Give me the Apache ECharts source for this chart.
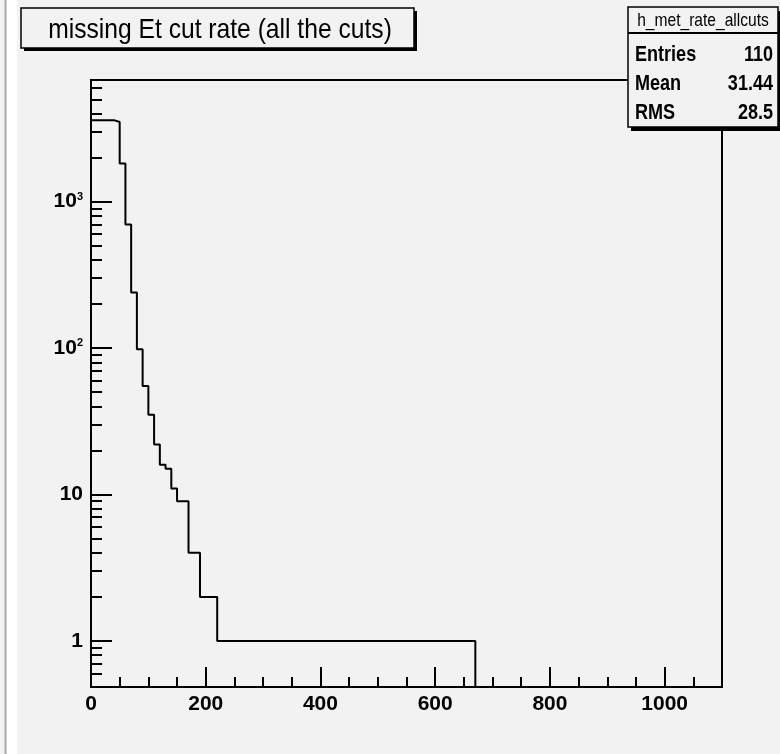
<!DOCTYPE html>
<html>
<head>
<meta charset="utf-8">
<script src="https://cdn.jsdelivr.net/npm/echarts@6/dist/echarts.min.js"></script>
<style>
  html, body { margin: 0; padding: 0; background: #f2f2f2; }
  #chart { width: 780px; height: 754px; }
</style>
</head>
<body>
<div id="chart"></div>
<script>
  // histogram h_met_rate_allcuts, bin width 10, runs of equal bin content
  const binEdges = [0, 40, 50, 60, 70, 80, 90, 100, 110, 120, 130, 140, 150, 170, 190, 220, 670, 1100]
  const binCounts = [3600, 3500, 1818, 697, 240, 98, 55, 35, 22, 16, 15, 11, 9, 4, 2, 1, 0]

  const xMajorTicks = [0, 200, 400, 600, 800, 1000]
  const xMinorTicks = [50, 100, 150, 250, 300, 350, 450, 500, 550, 650, 700, 750, 850, 900, 950, 1050]
  const yMajorTicks = [1, 10, 100, 1000]
  const yMinorTicks = [0.6, 0.7, 0.8, 0.9, 2, 3, 4, 5, 6, 7, 8, 9, 20, 30, 40, 50, 60, 70, 80, 90,
    200, 300, 400, 500, 600, 700, 800, 900, 2000, 3000, 4000, 5000, 6000]

  const titleText = 'missing Et cut rate (all the cuts)'
  const statsName = 'h_met_rate_allcuts'
  const statsRows = [['Entries', '110'], ['Mean', '31.44'], ['RMS', '28.5']]

  const xMin = 0
  const xMax = 1100
  const yMin = 0.485
  const yMax = 6770

  const font = '"Liberation Sans", Arial, sans-serif'

  // step outline; empty bins sit on the bottom of the frame like ROOT does
  function histPoints () {
    let pts = []
    for (let i = 0; i < binCounts.length; i++) {
      pts.push([binEdges[i], Math.max(binCounts[i], yMin)])
    }
    pts.push([binEdges[binEdges.length - 1], Math.max(binCounts[binCounts.length - 1], yMin)])
    return pts
  }

  function yLabel (v) {
    if (v >= 100) {
      return '{b|10}{s|' + Math.round(Math.log10(v)) + '}'
    }
    return '{b|' + v + '}'
  }

  let chart = echarts.init(document.getElementById('chart'))

  let statsGraphics = [
    {type: 'rect', shape: {x: 631, y: 11, width: 150, height: 120}, style: {fill: '#000'}},
    {type: 'rect', shape: {x: 628, y: 7, width: 150, height: 120}, style: {fill: '#f2f2f2', stroke: '#000', lineWidth: 1.5}},
    {type: 'line', shape: {x1: 628, y1: 33, x2: 778, y2: 33}, style: {stroke: '#000', lineWidth: 2}},
    {type: 'text', x: 703, y: 21, scaleX: 0.82, style: {text: statsName, fontFamily: font, fontSize: 19, fill: '#000', align: 'center', verticalAlign: 'middle'}}
  ]
  statsRows.forEach(function (row, i) {
    let y = 55 + i * 29
    statsGraphics.push({type: 'text', x: 635, y: y, scaleX: 0.82, style: {text: row[0], fontFamily: font, fontWeight: 'bold', fontSize: 22, fill: '#000', align: 'left', verticalAlign: 'middle'}})
    statsGraphics.push({type: 'text', x: 773, y: y, scaleX: 0.82, style: {text: row[1], fontFamily: font, fontWeight: 'bold', fontSize: 22, fill: '#000', align: 'right', verticalAlign: 'middle'}})
  })

  let option = {
    backgroundColor: '#f2f2f2',
    animation: false,
    grid: {
      left: 91,
      right: 58,
      top: 80,
      bottom: 67,
      show: true,
      borderColor: '#000',
      borderWidth: 2,
      backgroundColor: 'transparent'
    },
    xAxis: [
      {
        type: 'value',
        min: xMin,
        max: xMax,
        position: 'bottom',
        axisLine: {show: false},
        splitLine: {show: false},
        axisTick: {customValues: xMajorTicks, inside: true, length: 20, lineStyle: {color: '#000', width: 2}},
        axisLabel: {
          customValues: xMajorTicks,
          formatter: function (v) { return String(v) },
          color: '#000',
          fontFamily: font,
          fontWeight: 'bold',
          fontSize: 21,
          margin: 7
        }
      },
      {
        type: 'value',
        min: xMin,
        max: xMax,
        position: 'bottom',
        offset: 0,
        axisLine: {show: false},
        splitLine: {show: false},
        axisTick: {customValues: xMinorTicks, inside: true, length: 10, lineStyle: {color: '#000', width: 2}},
        axisLabel: {show: false}
      }
    ],
    yAxis: [
      {
        type: 'log',
        logBase: 10,
        min: yMin,
        max: yMax,
        position: 'left',
        axisLine: {show: false},
        splitLine: {show: false},
        axisTick: {customValues: yMajorTicks, inside: true, length: 21, lineStyle: {color: '#000', width: 2}},
        axisLabel: {
          customValues: yMajorTicks,
          margin: 8,
          formatter: yLabel,
          rich: {
            b: {color: '#000', fontFamily: font, fontWeight: 'bold', fontSize: 21},
            s: {color: '#000', fontFamily: font, fontWeight: 'bold', fontSize: 11, verticalAlign: 'top'}
          }
        }
      },
      {
        type: 'log',
        logBase: 10,
        min: yMin,
        max: yMax,
        position: 'left',
        offset: 0,
        axisLine: {show: false},
        splitLine: {show: false},
        axisTick: {customValues: yMinorTicks, inside: true, length: 11, lineStyle: {color: '#000', width: 2}},
        axisLabel: {show: false}
      }
    ],
    series: [
      {
        type: 'line',
        xAxisIndex: 0,
        yAxisIndex: 0,
        step: 'end',
        symbol: 'none',
        data: histPoints(),
        lineStyle: {color: '#000', width: 2},
        clip: true
      }
    ],
    graphic: [
      {type: 'rect', shape: {x: 7, y: 0, width: 10, height: 754}, style: {fill: '#fff'}},
      {type: 'line', shape: {x1: 5.5, y1: 0, x2: 5.5, y2: 754}, style: {stroke: '#aaa', lineWidth: 2}},
      {type: 'rect', shape: {x: 24, y: 11, width: 393, height: 40}, style: {fill: '#000'}},
      {type: 'rect', shape: {x: 21, y: 8, width: 393, height: 40}, style: {fill: '#f2f2f2', stroke: '#000', lineWidth: 1.5}},
      {type: 'text', x: 220, y: 30, scaleX: 0.88, style: {text: titleText, fontFamily: font, fontSize: 28, fill: '#000', align: 'center', verticalAlign: 'middle'}}
    ].concat(statsGraphics)
  }
  chart.setOption(option)
</script>
</body>
</html>
